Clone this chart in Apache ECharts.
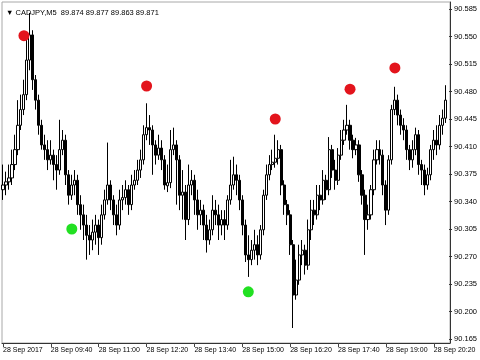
<!DOCTYPE html>
<html>
<head>
<meta charset="utf-8">
<script src="https://cdn.jsdelivr.net/npm/echarts@6/dist/echarts.min.js"></script>
<style>
html,body{margin:0;padding:0;background:#fff;}
#c{width:480px;height:360px;}
</style>
</head>
<body>
<div id="c"></div>
<script>
// ---- data (CADJPY, M5, 28 Sep 2017 from 08:20) ----
const startTime = "08:20";
const tickLabels = ["28 Sep 2017","28 Sep 09:40","28 Sep 11:00","28 Sep 12:20","28 Sep 13:40","28 Sep 15:00","28 Sep 16:20","28 Sep 17:40","28 Sep 19:00","28 Sep 20:20"];
const yTicks = [90.165, 90.585, 0.035]; // min, max, step

const opens = [90.355,90.361,90.365,90.370,90.387,90.406,90.437,90.457,90.476,90.520,
90.552,90.495,90.469,90.437,90.412,90.406,90.393,90.399,90.387,90.380,
90.406,90.418,90.374,90.348,90.361,90.367,90.336,90.323,90.310,90.297,
90.291,90.301,90.310,90.294,90.323,90.342,90.361,90.342,90.323,90.310,
90.342,90.345,90.355,90.336,90.361,90.367,90.380,90.393,90.425,90.434,
90.431,90.412,90.399,90.408,90.393,90.360,90.364,90.406,90.412,90.393,
90.348,90.352,90.317,90.361,90.367,90.342,90.323,90.329,90.310,90.291,
90.304,90.329,90.323,90.310,90.317,90.310,90.342,90.361,90.374,90.367,
90.342,90.310,90.272,90.266,90.278,90.285,90.272,90.304,90.348,90.374,
90.387,90.390,90.395,90.406,90.361,90.336,90.323,90.285,90.221,90.240,
90.272,90.278,90.259,90.304,90.329,90.323,90.348,90.342,90.367,90.355,
90.406,90.380,90.367,90.399,90.418,90.431,90.437,90.418,90.406,90.412,
90.374,90.348,90.317,90.323,90.355,90.393,90.406,90.399,90.361,90.329,
90.393,90.457,90.469,90.450,90.437,90.431,90.406,90.393,90.406,90.425,
90.387,90.380,90.361,90.374,90.406,90.418,90.412,90.437,90.446];

const closes = [90.361,90.365,90.370,90.387,90.406,90.437,90.457,90.476,90.520,90.552,
90.495,90.469,90.437,90.412,90.406,90.393,90.399,90.387,90.380,90.406,
90.418,90.374,90.348,90.361,90.367,90.336,90.323,90.310,90.297,90.291,
90.301,90.310,90.294,90.323,90.342,90.361,90.342,90.323,90.310,90.342,
90.345,90.355,90.336,90.361,90.367,90.380,90.393,90.425,90.434,90.431,
90.412,90.399,90.408,90.393,90.361,90.364,90.406,90.412,90.393,90.348,
90.352,90.317,90.361,90.367,90.342,90.323,90.329,90.310,90.291,90.304,
90.329,90.323,90.310,90.317,90.310,90.342,90.361,90.374,90.367,90.342,
90.310,90.272,90.266,90.278,90.285,90.272,90.304,90.348,90.374,90.387,
90.390,90.395,90.406,90.361,90.336,90.323,90.285,90.221,90.240,90.272,
90.278,90.259,90.304,90.329,90.323,90.348,90.342,90.367,90.355,90.406,
90.380,90.367,90.399,90.418,90.431,90.437,90.418,90.406,90.412,90.374,
90.348,90.317,90.323,90.355,90.393,90.406,90.399,90.361,90.329,90.393,
90.457,90.469,90.450,90.437,90.431,90.406,90.393,90.406,90.425,90.387,
90.380,90.361,90.374,90.406,90.418,90.412,90.437,90.446,90.469];

const lows = [90.342,90.348,90.355,90.361,90.380,90.399,90.431,90.450,90.469,90.507,
90.482,90.457,90.425,90.406,90.393,90.380,90.387,90.367,90.355,90.374,
90.399,90.361,90.336,90.342,90.348,90.323,90.304,90.291,90.266,90.272,
90.278,90.285,90.272,90.285,90.317,90.336,90.329,90.310,90.297,90.304,
90.329,90.336,90.323,90.329,90.355,90.361,90.370,90.387,90.418,90.412,
90.374,90.387,90.393,90.380,90.355,90.352,90.357,90.399,90.336,90.329,
90.317,90.291,90.310,90.348,90.323,90.304,90.310,90.291,90.275,90.285,
90.297,90.310,90.291,90.297,90.291,90.304,90.336,90.355,90.348,90.329,
90.297,90.263,90.244,90.259,90.266,90.259,90.266,90.297,90.342,90.367,
90.380,90.383,90.387,90.348,90.323,90.310,90.272,90.179,90.215,90.234,
90.259,90.247,90.253,90.291,90.310,90.317,90.329,90.336,90.342,90.348,
90.370,90.355,90.361,90.393,90.412,90.425,90.406,90.395,90.399,90.365,
90.336,90.272,90.304,90.317,90.348,90.387,90.387,90.348,90.310,90.323,
90.387,90.450,90.437,90.425,90.418,90.393,90.380,90.383,90.399,90.374,
90.361,90.348,90.355,90.367,90.393,90.399,90.406,90.425,90.440];

const highs = [90.387,90.378,90.387,90.406,90.425,90.469,90.476,90.495,90.546,90.580,
90.558,90.501,90.476,90.444,90.425,90.418,90.418,90.406,90.399,90.444,
90.431,90.425,90.380,90.374,90.380,90.374,90.348,90.336,90.323,90.310,
90.317,90.323,90.317,90.336,90.355,90.415,90.367,90.348,90.336,90.355,
90.361,90.367,90.361,90.374,90.380,90.393,90.406,90.437,90.465,90.450,
90.437,90.418,90.425,90.418,90.399,90.387,90.431,90.434,90.418,90.399,
90.380,90.361,90.387,90.380,90.374,90.355,90.342,90.336,90.323,90.317,
90.348,90.342,90.336,90.329,90.329,90.348,90.393,90.397,90.387,90.374,
90.348,90.317,90.297,90.291,90.304,90.297,90.310,90.355,90.387,90.399,
90.406,90.425,90.418,90.412,90.367,90.342,90.329,90.291,90.266,90.285,
90.291,90.285,90.317,90.342,90.342,90.361,90.361,90.380,90.374,90.422,
90.412,90.393,90.408,90.431,90.444,90.463,90.444,90.425,90.421,90.418,
90.380,90.355,90.336,90.361,90.406,90.418,90.418,90.406,90.367,90.399,
90.463,90.486,90.476,90.457,90.446,90.437,90.412,90.418,90.434,90.431,
90.393,90.387,90.383,90.412,90.431,90.437,90.450,90.457,90.488];

// signal dots (bar index, price)
const sellIdx = [7, 48, 91, 116, 131];
const sellVals = [90.551, 90.487, 90.445, 90.483, 90.510];
const buyIdx = [23, 82];
const buyVals = [90.305, 90.225];

// ---- build ----
const cats = [];
(function(){
  let [h, m] = startTime.split(":").map(Number);
  for (let i = 0; i < opens.length; i++) {
    cats.push(String(h).padStart(2,"0") + ":" + String(m).padStart(2,"0"));
    m += 5; if (m >= 60) { m -= 60; h += 1; }
  }
})();
const candles = opens.map((o, i) => [o, closes[i], lows[i], highs[i]]);
const sellData = sellIdx.map((x, i) => [x, sellVals[i]]);
const buyData = buyIdx.map((x, i) => [x, buyVals[i]]);

const FONT = "Liberation Sans";
const chart = echarts.init(document.getElementById("c"), null, {renderer: "canvas"});
chart.setOption({
  animation: false,
  backgroundColor: "#ffffff",
  title: {
    text: "\u25BC CADJPY,M5  89.874 89.877 89.863 89.871",
    left: 1, top: 4,
    textStyle: {fontSize: 7.5, fontWeight: "normal", color: "#000", fontFamily: FONT}
  },
  grid: [
    {left: 1.2, right: 31.8, top: 9, bottom: 21, show: false},
    {left: 2, right: 30, top: 2, bottom: 17, show: true, borderColor: "#a8a8a8", borderWidth: 1, backgroundColor: "transparent"}
  ],
  xAxis: [
    {
      type: "category", gridIndex: 0, data: cats, boundaryGap: true, offset: 4,
      axisLine: {show: false},
      axisTick: {show: true, interval: 15, alignWithLabel: true, length: 4, lineStyle: {color: "#444"}},
      axisLabel: {
        interval: 15, align: "left", margin: 4, fontSize: 7, color: "#000", fontFamily: FONT,
        formatter: (v, idx) => tickLabels[Math.round(idx / 16)] || ""
      },
      splitLine: {show: false}
    },
    {
      type: "value", gridIndex: 1, min: 0, max: 1,
      axisLine: {show: true, onZero: false, lineStyle: {color: "#333"}},
      axisTick: {show: false}, axisLabel: {show: false}, splitLine: {show: false}
    }
  ],
  yAxis: [
    {
      type: "value", gridIndex: 0, position: "right", offset: 1.8,
      min: yTicks[0], max: yTicks[1], interval: yTicks[2],
      axisLine: {show: false},
      axisTick: {show: true, length: 3, lineStyle: {color: "#333"}},
      axisLabel: {margin: 5, fontSize: 7.5, color: "#000", fontFamily: FONT, showMinLabel: true, showMaxLabel: true,
        formatter: v => v.toFixed(3)},
      splitLine: {show: false}
    },
    {
      type: "value", gridIndex: 1, position: "right", min: 0, max: 1,
      axisLine: {show: true, onZero: false, lineStyle: {color: "#333"}},
      axisTick: {show: false}, axisLabel: {show: false}, splitLine: {show: false}
    }
  ],
  series: [
    {
      name: "CADJPY", type: "candlestick", xAxisIndex: 0, yAxisIndex: 0,
      data: candles, barWidth: 2.6,
      itemStyle: {color: "#ffffff", color0: "#000000", borderColor: "#000000", borderColor0: "#000000", borderColorDoji: "#000000", borderWidth: 1}
    },
    {
      name: "Sell", type: "scatter", xAxisIndex: 0, yAxisIndex: 0,
      data: sellData, symbolSize: 11, itemStyle: {color: "#e3141c", opacity: 1}, z: 5
    },
    {
      name: "Buy", type: "scatter", xAxisIndex: 0, yAxisIndex: 0,
      data: buyData, symbolSize: 11, itemStyle: {color: "#22e022", opacity: 1}, z: 5
    }
  ]
});
</script>
</body>
</html>
